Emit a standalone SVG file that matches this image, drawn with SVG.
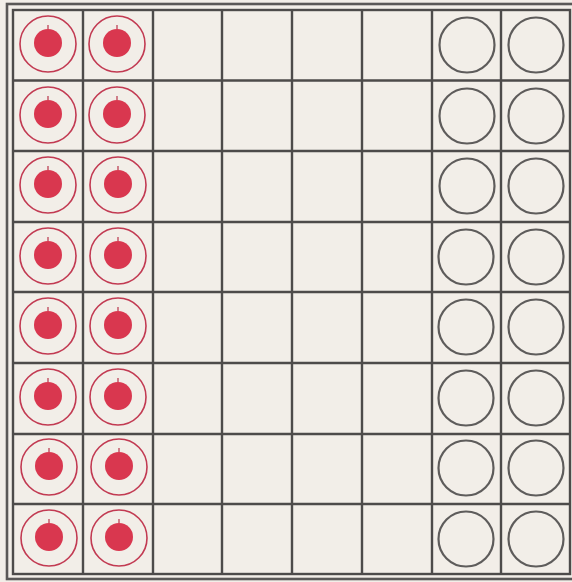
<svg xmlns="http://www.w3.org/2000/svg" xmlns:xlink="http://www.w3.org/1999/xlink" width="572" height="582" viewBox="0 0 572 582">
<style>
.bg{fill:#f2eee8}
.grid{stroke:#4d4b4a;stroke-width:2.4;fill:none}
.border{stroke:#5a5857;stroke-width:2.6;fill:none}
.ring{fill:none;stroke:#c23a52;stroke-width:1.6}
.dot{fill:#d9374f}
.stem{stroke:#b8344a;stroke-width:1.2}
.empty{fill:none;stroke:#5e5c5b;stroke-width:2.2}
</style>
<defs>
<g id="red">
<circle class="ring" cx="0" cy="0" r="28"/>
<circle class="dot" cx="0" cy="-1" r="14"/>
<line class="stem" x1="0" y1="-15" x2="0" y2="-19"/>
</g>
<circle id="open" class="empty" cx="0" cy="0" r="27.5"/>
</defs>
<rect class="bg" x="0" y="0" width="572" height="582"/>
<g id="board">
<rect class="border" x="7" y="4" width="570" height="575"/>
<rect class="grid" x="13" y="10" width="557" height="564"/>
<path class="grid" d="M83 10V574M153 10V574M222 10V574M292 10V574M362 10V574M432 10V574M501 10V574M13 80.5H570M13 151H570M13 222H570M13 292H570M13 363H570M13 434H570M13 504H570"/>
</g>
<g id="red-pieces">
<use xlink:href="#red" x="48" y="44"/><use xlink:href="#red" x="117" y="44"/>
<use xlink:href="#red" x="48" y="115"/><use xlink:href="#red" x="117" y="115"/>
<use xlink:href="#red" x="48" y="185"/><use xlink:href="#red" x="118" y="185"/>
<use xlink:href="#red" x="48" y="256"/><use xlink:href="#red" x="118" y="256"/>
<use xlink:href="#red" x="48" y="326"/><use xlink:href="#red" x="118" y="326"/>
<use xlink:href="#red" x="48" y="397"/><use xlink:href="#red" x="118" y="397"/>
<use xlink:href="#red" x="49" y="467"/><use xlink:href="#red" x="119" y="467"/>
<use xlink:href="#red" x="49" y="538"/><use xlink:href="#red" x="119" y="538"/>
</g>
<g id="open-circles">
<use xlink:href="#open" x="467" y="45"/><use xlink:href="#open" x="536" y="45"/>
<use xlink:href="#open" x="467" y="116"/><use xlink:href="#open" x="536" y="116"/>
<use xlink:href="#open" x="467" y="186"/><use xlink:href="#open" x="536" y="186"/>
<use xlink:href="#open" x="466" y="257"/><use xlink:href="#open" x="536" y="257"/>
<use xlink:href="#open" x="466" y="327"/><use xlink:href="#open" x="536" y="327"/>
<use xlink:href="#open" x="466" y="398"/><use xlink:href="#open" x="536" y="398"/>
<use xlink:href="#open" x="466" y="468"/><use xlink:href="#open" x="536" y="468"/>
<use xlink:href="#open" x="466" y="539"/><use xlink:href="#open" x="536" y="539"/>
</g>
</svg>
